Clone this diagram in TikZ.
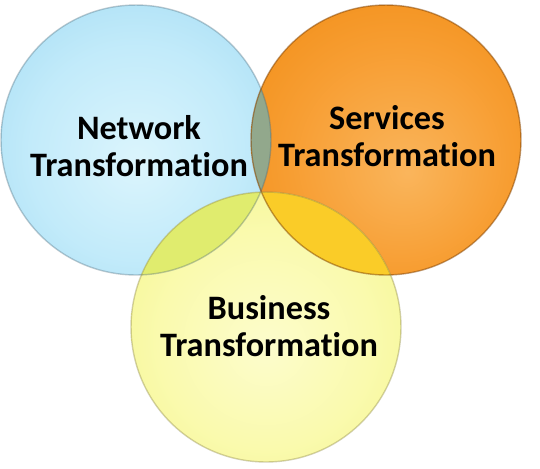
\documentclass[tikz,border=0pt]{standalone}
\usepackage{fontspec}
\setmainfont[Ligatures={NoCommon}]{Carlito}
\usepackage{tikz}

\definecolor{lensno}{RGB}{146,168,140}
\definecolor{lensnb}{RGB}{224,236,110}
\definecolor{lenssb}{RGB}{250,204,40}
\definecolor{lensall}{RGB}{236,214,74}

% radial shadings that reach the outer colour at the rim
\pgfdeclareradialshading{netshade}{\pgfpoint{0bp}{-4bp}}{%
  rgb(0bp)=(0.86,0.96,0.99); rgb(20bp)=(0.76,0.92,0.98);
  rgb(40bp)=(0.62,0.85,0.95); rgb(50bp)=(0.55,0.80,0.92)}
\pgfdeclareradialshading{srvshade}{\pgfpoint{4bp}{-6bp}}{%
  rgb(0bp)=(0.98,0.71,0.36); rgb(20bp)=(0.97,0.62,0.20);
  rgb(40bp)=(0.94,0.54,0.06); rgb(50bp)=(0.88,0.47,0.02)}
\pgfdeclareradialshading{busshade}{\pgfpoint{0bp}{-4bp}}{%
  rgb(0bp)=(0.99,0.99,0.80); rgb(20bp)=(0.98,0.98,0.68);
  rgb(40bp)=(0.95,0.96,0.52); rgb(50bp)=(0.91,0.93,0.42)}

\tikzset{
  ring/.style={circle, minimum size=5.40cm, inner sep=0pt},
  caption/.style={font=\bfseries\fontsize{19.5}{21.3}\selectfont, align=center, text=black}
}

\begin{document}
\begin{tikzpicture}[x=0.02cm, y=-0.02cm]
				\useasboundingbox (0,0) rectangle (540,468);
				\node[ring, shading=netshade] (1) at(136,140){};
				\node[ring, shading=srvshade] (2) at(386,140){};
				\node[ring, shading=busshade] (3) at(266,327){};
				% overlaps
				\begin{scope}
				\clip (1.center) circle (2.70cm);
				\fill[lensno] (2.center) circle (2.70cm);
				\fill[lensnb] (3.center) circle (2.70cm);
				\end{scope}
				\begin{scope}
				\clip (2.center) circle (2.70cm);
				\fill[lenssb] (3.center) circle (2.70cm);
				\clip (1.center) circle (2.70cm);
				\fill[lensall] (3.center) circle (2.70cm);
				\end{scope}
				\draw[cyan!40!black, opacity=0.35, line width=0.8pt] (1.center) circle (2.70cm);
				\draw[orange!50!black, opacity=0.5, line width=0.8pt] (2.center) circle (2.70cm);
				\draw[yellow!50!black, opacity=0.4, line width=0.8pt] (3.center) circle (2.70cm);
				% labels
				\node[caption] (n) at(139,146){Network\\Transformation};
				\node[caption] (s) at(387,136){Services\\Transformation};
				\node[caption] (b) at(269,326){Business\\Transformation};
			\end{tikzpicture}
\end{document}
